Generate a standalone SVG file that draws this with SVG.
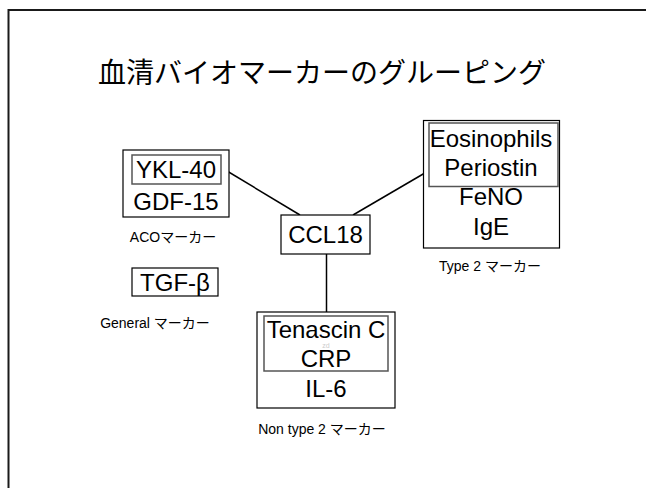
<svg xmlns="http://www.w3.org/2000/svg" width="646" height="488" viewBox="0 0 646 488">
<style>
.frame{fill:none;stroke:#1a1a1a;stroke-width:2}
.outer{fill:#fff;stroke:#000;stroke-width:1.2}
.inner{fill:none;stroke:#555;stroke-width:1.5}
.t{font-family:"Liberation Sans",Arial,sans-serif;font-size:24px;fill:#000;text-anchor:middle}
.lbl{font-family:"Liberation Sans","Noto Sans CJK JP",sans-serif;font-size:14px;fill:#000;text-anchor:middle}
.title{font-family:"Noto Sans CJK JP",sans-serif;font-size:28px;fill:#000;text-anchor:middle}
.conn{stroke:#000;stroke-width:1.5;fill:none}
</style>
<rect width="646" height="488" fill="#fff"/>
<rect class="frame" x="8.5" y="10" width="660" height="500"/>
<text class="title" x="322" y="83">血清バイオマーカーのグルーピング</text>
<g id="connectors">
<line class="conn" x1="222" y1="168" x2="300" y2="215"/>
<line class="conn" x1="353" y1="215" x2="430" y2="170"/>
<line class="conn" x1="326.5" y1="254" x2="326.5" y2="316"/>
</g>
<g id="aco">
<rect class="outer" x="123" y="150" width="106" height="67"/>
<rect class="inner" x="132" y="155" width="89" height="29"/>
<text class="t" x="176" y="178">YKL-40</text>
<text class="t" x="176" y="210">GDF-15</text>
<text class="lbl" x="173" y="242">ACOマーカー</text>
</g>
<g id="ccl18">
<rect class="outer" x="281" y="215" width="89" height="39"/>
<text class="t" x="325.5" y="243">CCL18</text>
</g>
<g id="type2">
<rect class="outer" x="423.5" y="120.5" width="136" height="127.5"/>
<rect class="inner" x="429" y="123" width="129" height="63.5"/>
<text class="t" x="491" y="147">Eosinophils</text>
<text class="t" x="491" y="176">Periostin</text>
<text class="t" x="491" y="205">FeNO</text>
<text class="t" x="491" y="235">IgE</text>
<text class="lbl" x="490" y="271">Type 2 マーカー</text>
</g>
<g id="tgf">
<rect class="outer" x="132" y="268" width="86" height="28"/>
<text class="t" x="175" y="291">TGF-β</text>
<text class="lbl" x="155" y="328">General マーカー</text>
</g>
<g id="nontype2">
<rect class="outer" x="257" y="312" width="138" height="96"/>
<rect class="inner" x="264" y="316" width="124" height="55"/>
<text class="t" x="326" y="338">Tenascin C</text>
<text x="326" y="348" font-family="Liberation Sans,sans-serif" font-size="7" fill="#ccc" text-anchor="middle">zd</text>
<text class="t" x="326" y="367">CRP</text>
<text class="t" x="326" y="397">IL-6</text>
<text class="lbl" x="322" y="434">Non type 2 マーカー</text>
</g>
</svg>
